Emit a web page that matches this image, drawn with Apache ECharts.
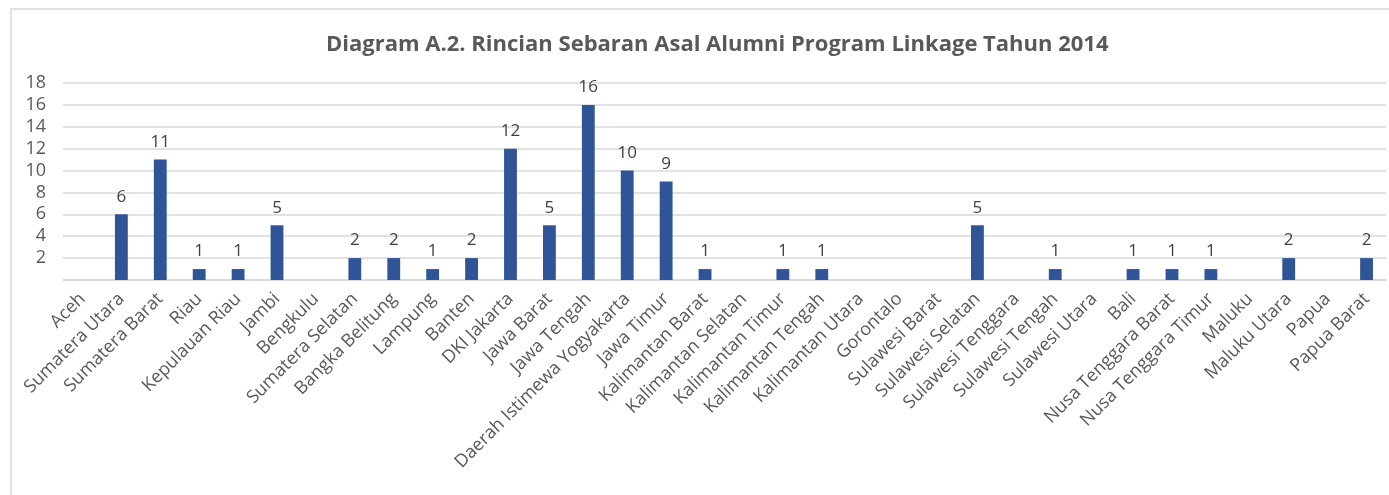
<!DOCTYPE html>
<html>
<head>
<meta charset="utf-8">
<style>
  html, body { margin: 0; padding: 0; background: #fff; }
  #chart { width: 1389px; height: 495px; }
</style>
<script src="https://cdn.jsdelivr.net/npm/echarts@6/dist/echarts.min.js"></script>
</head>
<body>
<div id="chart"></div>
<script>
const chartTitle = "Diagram A.2. Rincian Sebaran Asal Alumni Program Linkage Tahun 2014";

const provinces = [
  "Aceh", "Sumatera Utara", "Sumatera Barat", "Riau", "Kepulauan Riau",
  "Jambi", "Bengkulu", "Sumatera Selatan", "Bangka Belitung", "Lampung",
  "Banten", "DKI Jakarta", "Jawa Barat", "Jawa Tengah", "Daerah Istimewa Yogyakarta",
  "Jawa Timur", "Kalimantan Barat", "Kalimantan Selatan", "Kalimantan Timur", "Kalimantan Tengah",
  "Kalimantan Utara", "Gorontalo", "Sulawesi Barat", "Sulawesi Selatan", "Sulawesi Tenggara",
  "Sulawesi Tengah", "Sulawesi Utara", "Bali", "Nusa Tenggara Barat", "Nusa Tenggara Timur",
  "Maluku", "Maluku Utara", "Papua", "Papua Barat"
];

const alumniCounts = [
  0, 6, 11, 1, 1,
  5, 0, 2, 2, 1,
  2, 12, 5, 16, 10,
  9, 1, 0, 1, 1,
  0, 0, 0, 5, 0,
  1, 0, 1, 1, 1,
  0, 2, 0, 2
];

const yMin = 0;
const yMax = 18;
const yStep = 2;

const textColor = "#595959";
const gridColor = "#d9d9d9";
const barColor = "#2f5597";
const fontFamily = "'Open Sans', 'Noto Sans', sans-serif";

const chart = echarts.init(document.getElementById("chart"), null, { renderer: "canvas" });

chart.setOption({
  backgroundColor: "#fff",
  animation: false,
  title: {
    text: chartTitle,
    left: 321,
    top: 29,
    textStyle: { color: textColor, fontFamily, fontSize: 22, fontWeight: "bold" }
  },
  graphic: [{
    type: "rect",
    shape: { x: 11, y: 9, width: 1420, height: 520 },
    style: { fill: "none", stroke: gridColor, lineWidth: 1.5 },
    silent: true
  }],
  grid: { left: 63, right: 3, top: 83, bottom: 215, containLabel: false },
  xAxis: {
    type: "category",
    data: provinces,
    axisLine: { show: true, lineStyle: { color: gridColor, width: 1.5 } },
    axisTick: { show: false },
    axisLabel: {
      interval: 0,
      rotate: 45,
      margin: 16,
      color: textColor,
      fontFamily,
      fontSize: 18
    }
  },
  yAxis: {
    type: "value",
    min: yMin,
    max: yMax,
    interval: yStep,
    axisLine: { show: false },
    axisTick: { show: false },
    splitLine: { lineStyle: { color: gridColor, width: 1.5 } },
    axisLabel: {
      margin: 17,
      color: textColor,
      fontFamily,
      fontSize: 18,
      formatter: (v) => (v === 0 ? "" : String(v))
    }
  },
  series: [{
    type: "bar",
    data: alumniCounts,
    barWidth: "33%",
    itemStyle: { color: barColor },
    label: {
      show: true,
      position: "top",
      distance: 9,
      color: "#404040",
      fontFamily,
      fontSize: 17,
      formatter: (p) => (p.value === 0 ? "" : String(p.value))
    }
  }]
});
</script>
</body>
</html>
